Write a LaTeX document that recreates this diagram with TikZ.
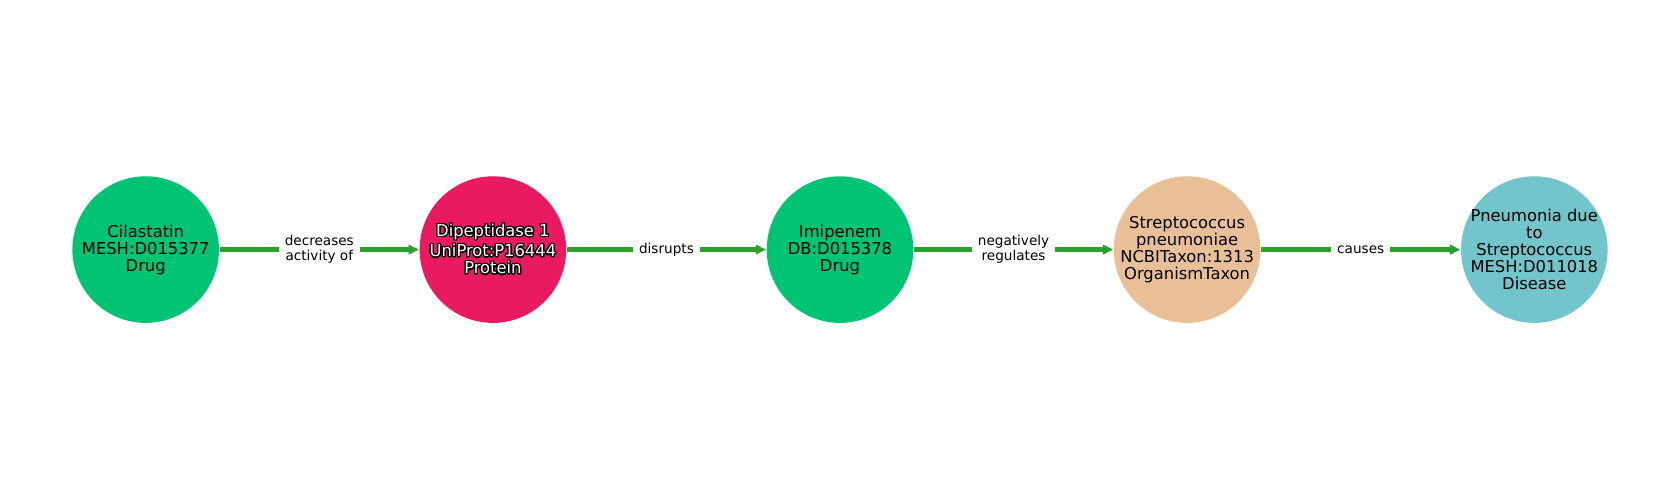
\documentclass[tikz,border=0pt]{standalone}
\usepackage{fontspec}
\setmainfont{DejaVu Sans}
\usepackage[copies]{contour}
\contourlength{0.35pt}
\usetikzlibrary{arrows.meta}
\definecolor{drugcol}{RGB}{0,196,115}
\definecolor{proteincol}{RGB}{233,25,98}
\definecolor{taxoncol}{RGB}{233,191,151}
\definecolor{diseasecol}{RGB}{114,197,203}
\definecolor{edgecol}{RGB}{44,160,44}

\begin{document}
\begin{tikzpicture}[
		entity/.style={circle, minimum size=1.466cm, inner sep=0pt, fill=#1},
		nodetext/.style={font=\fontsize{4.65}{4.85}\selectfont, align=center, inner sep=0pt},
		relation/.style={draw=edgecol, line width=1.2pt, -{Triangle[length=2.9pt,width=2.7pt]}},
		rellabel/.style={fill=white, inner xsep=1.7pt, inner ysep=1pt, font=\fontsize{3.87}{4.3}\selectfont, align=center}
	]
		%%%%% START %%%%%
		
		\useasboundingbox (0, 0) rectangle (16.8, 5);
		
		\node[entity=drugcol] (cilastatin) at (1.457, 2.504) {};
		\node[entity=proteincol] (dipeptidase) at (4.929, 2.504) {};
		\node[entity=drugcol] (imipenem) at (8.400, 2.504) {};
		\node[entity=taxoncol] (strepto) at (11.871, 2.504) {};
		\node[entity=diseasecol] (pneumonia) at (15.343, 2.504) {};
		
		\node[nodetext] (cilastatin-text) at (cilastatin) {Cilastatin\\MESH:D015377\\Drug};
		\node[nodetext, text=white] (dipeptidase-text) at (dipeptidase) {\contour{black}{Dipeptidase 1}\\\contour{black}{UniProt:P16444}\\\contour{black}{Protein}};
		\node[nodetext] (imipenem-text) at (imipenem) {Imipenem\\DB:D015378\\Drug};
		\node[nodetext] (strepto-text) at (strepto) {Streptococcus\\pneumoniae\\NCBITaxon:1313\\OrganismTaxon};
		\node[nodetext] (pneumonia-text) at (pneumonia) {Pneumonia due\\to\\Streptococcus\\MESH:D011018\\Disease};
		
		\draw[relation] (cilastatin) -- node[rellabel] (lab1) {decreases\\activity of} (dipeptidase);
		\draw[relation] (dipeptidase) -- node[rellabel] (lab2) {disrupts} (imipenem);
		\draw[relation] (imipenem) -- node[rellabel] (lab3) {negatively\\regulates} (strepto);
		\draw[relation] (strepto) -- node[rellabel] (lab4) {causes} (pneumonia);
		
		%%%%% END %%%%%
	\end{tikzpicture}
\end{document}
